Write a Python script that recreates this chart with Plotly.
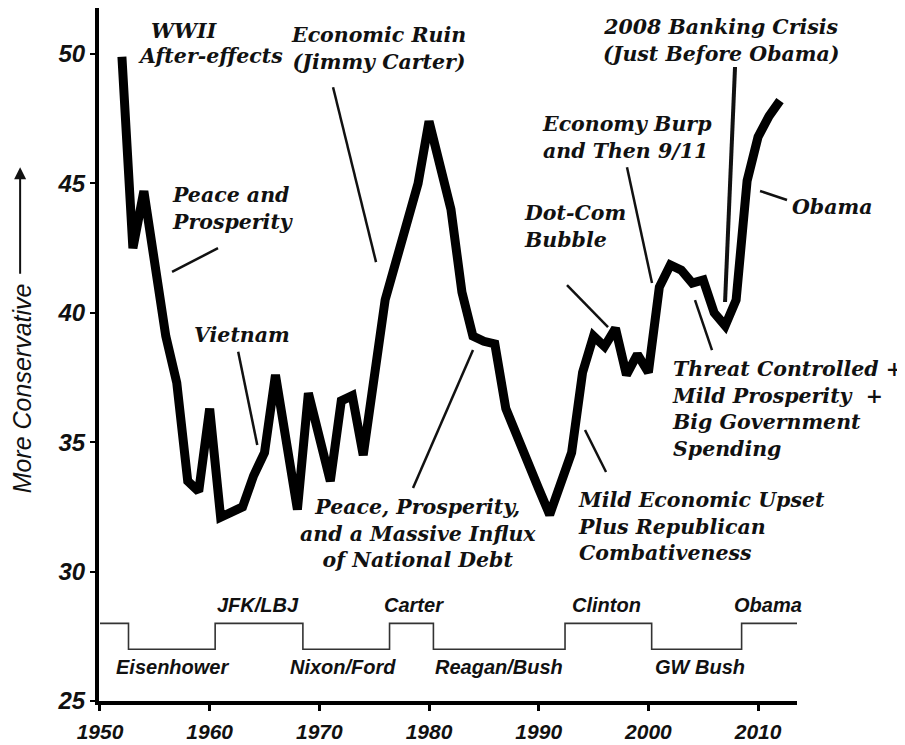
import plotly.graph_objects as go

# ---------------- data ----------------
years = list(range(1952, 2013))
conservatism = [
    49.9, 42.5, 44.7, 41.9, 39.1, 37.3, 33.5, 33.1,          # 1952-1959
    36.3, 32.1, 32.3, 32.5, 33.7, 34.6, 37.6, 35.0, 32.4, 36.9,  # 1960-1969
    35.2, 33.5, 36.6, 36.8, 34.5, 37.5, 40.5, 42.0, 43.5, 45.0,  # 1970-1979
    47.4, 45.7, 44.0, 40.8, 39.1, 38.9, 38.8, 36.3, 35.2, 34.2,  # 1980-1989
    33.2, 32.2, 33.4, 34.6, 37.7, 39.1, 38.7, 39.4, 37.6, 38.4,  # 1990-1999
    37.7, 41.0, 41.85, 41.65, 41.15, 41.27, 40.0, 39.5, 40.5, 45.1,  # 2000-2009
    46.8, 47.6, 48.2,                                          # 2010-2012
]

# presidential party indicator (28 = Democrat, 27 = Republican)
party_change_years = [1950, 1952.6, 1960.5, 1968.5, 1976.4, 1980.4, 1992.4, 2000.3, 2008.5, 2013.55]
party_level = [28, 27, 28, 27, 28, 27, 28, 27, 28, 28]

president_labels = ["Eisenhower", "JFK/LBJ", "Nixon/Ford", "Carter",
                    "Reagan/Bush", "Clinton", "GW Bush", "Obama"]
president_label_x = [1956.57, 1964.41, 1972.16, 1978.63, 1986.38, 1996.14, 2004.71, 2010.91]
president_label_y = [26.31, 28.71, 26.31, 28.71, 26.31, 28.71, 26.31, 28.71]

x_ticks = [1950, 1960, 1970, 1980, 1990, 2000, 2010]
y_ticks = [25, 30, 35, 40, 45, 50]

# event notes: text, x, y, xanchor, align
notes = [
    ("WWII", 1957.66, 50.89, "center", "center"),
    ("After-effects", 1960.03, 49.92, "center", "center"),
    ("Economic Ruin<br>(Jimmy Carter)", 1975.35, 50.23, "center", "center"),
    ("Peace and<br>Prosperity", 1956.38, 44.03, "left", "left"),
    ("Vietnam", 1962.95, 39.14, "center", "center"),
    ("Peace, Prosperity,<br>and a Massive Influx<br>of National Debt", 1979.0, 31.47, "center", "center"),
    ("Mild Economic Upset<br>Plus Republican<br>Combativeness", 1993.4, 31.76, "left", "left"),
    ("Threat Controlled +<br>Mild Prosperity\u00a0 +<br>Big Government<br>Spending", 2001.97, 36.30, "left", "left"),
    ("Dot-Com<br>Bubble", 1988.48, 43.35, "left", "left"),
    ("Economy Burp<br>and Then 9/11", 1990.12, 46.77, "left", "left"),
    ("2008 Banking Crisis<br>(Just Before Obama)", 2006.62, 50.54, "center", "center"),
    ("Obama", 2012.92, 44.09, "left", "left"),
]

# leader lines: x0, y0, x1, y1, width
leaders = [
    (1971.25, 48.72, 1975.17, 41.96, 2.5),
    (1956.57, 41.58, 1960.76, 42.50, 2.5),
    (1962.60, 38.50, 1964.34, 34.89, 2.5),
    (1978.54, 33.23, 1984.01, 38.56, 2.5),
    (1994.22, 35.47, 1996.14, 33.85, 2.5),
    (1992.58, 41.07, 1996.32, 39.45, 2.5),
    (1998.05, 45.63, 2000.33, 41.15, 2.5),
    (2007.90, 49.50, 2006.99, 40.42, 4.0),
    (2004.25, 40.49, 2005.80, 38.56, 2.5),
    (2010.18, 44.71, 2012.64, 44.36, 2.5),
]

# ---------------- figure ----------------
fig = go.Figure()

fig.add_trace(go.Scatter(
    x=party_change_years, y=party_level, mode="lines",
    line=dict(color="#333333", width=1.6, shape="hv"),
    hoverinfo="skip", showlegend=False,
))

fig.add_trace(go.Scatter(
    x=years, y=conservatism, mode="lines",
    line=dict(color="black", width=9),
    showlegend=False,
))

serif = dict(family="DejaVu Serif", size=20.5, color="#111111", style="italic", weight="bold")
for text, x, y, xa, al in notes:
    fig.add_annotation(x=x, y=y, xref="x", yref="y", text=text, showarrow=False,
                       xanchor=xa, yanchor="middle", align=al, font=serif)

sans = dict(family="Liberation Sans", size=20, color="#111111", style="italic", weight="bold")
for text, x, y in zip(president_labels, president_label_x, president_label_y):
    fig.add_annotation(x=x, y=y, xref="x", yref="y", text=text, showarrow=False,
                       xanchor="center", yanchor="middle", font=sans)

for x0, y0, x1, y1, w in leaders:
    fig.add_shape(type="line", x0=x0, y0=y0, x1=x1, y1=y1, xref="x", yref="y",
                  line=dict(color="#111111", width=w))

# y-axis label with arrow
fig.add_annotation(x=-0.110, y=37.09, xref="paper", yref="y", text="More Conservative",
                   textangle=-90, showarrow=False, xanchor="center", yanchor="middle",
                   font=dict(family="Liberation Sans", size=25, color="#111111", style="italic"))
fig.add_annotation(x=-0.113, y=45.63, xref="paper", yref="y", text="",
                   showarrow=True, ax=0, ay=108, arrowhead=2, arrowsize=1.2,
                   arrowwidth=2, arrowcolor="#111111")

tickfont = dict(family="Liberation Sans", size=21, color="#111111", style="italic", weight="bold")
fig.update_xaxes(range=[1949.91, 2013.55], tickvals=x_ticks, ticktext=[str(t) for t in x_ticks],
                 showline=True, linewidth=4, linecolor="black", ticks="outside",
                 ticklen=6, tickwidth=3, tickcolor="black", showgrid=False, zeroline=False,
                 tickfont=tickfont, ticklabelstandoff=3, automargin=False)
fig.update_yaxes(range=[25, 51.78], tickvals=y_ticks, ticktext=[str(t) for t in y_ticks],
                 showline=True, linewidth=4, linecolor="black", ticks="outside",
                 ticklen=5, tickwidth=2, tickcolor="black", showgrid=False, zeroline=False,
                 tickfont=dict(family="Liberation Sans", size=24, color="#111111",
                               style="italic", weight="bold"), ticklabelstandoff=0,
                 automargin=False)

# the page adds an 8px body margin, so the figure is 8px smaller and margins shifted
fig.update_layout(
    width=897, height=737, autosize=False,
    margin=dict(l=91, r=108, t=0, b=44),
    plot_bgcolor="white", paper_bgcolor="white",
    showlegend=False,
)

fig.write_html("out.html")
